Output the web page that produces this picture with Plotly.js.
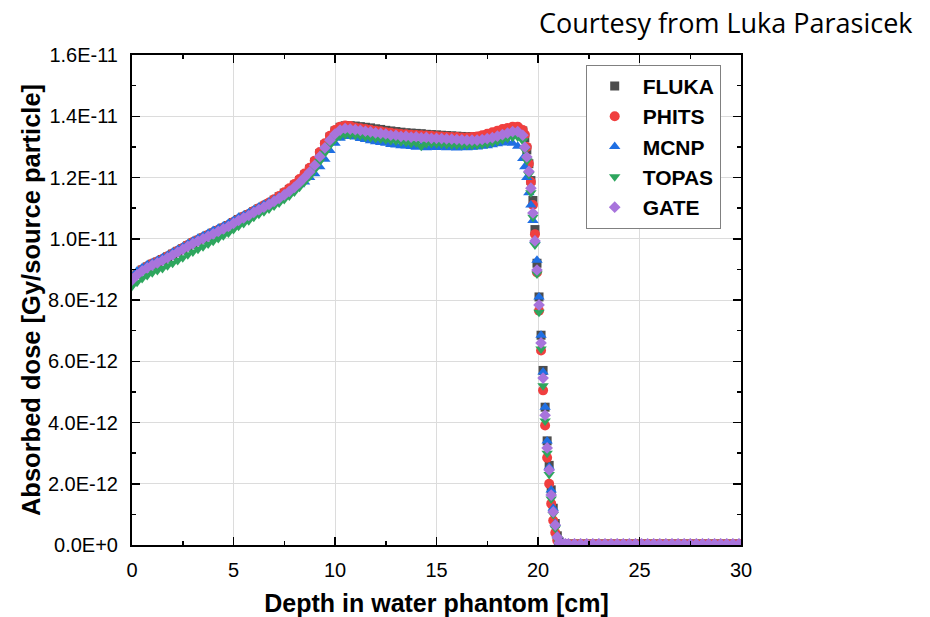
<!DOCTYPE html>
<html>
<head>
<meta charset="utf-8">
<script src="https://cdn.plot.ly/plotly-3.0.1.min.js"></script>
<style>html,body{margin:0;padding:0;background:#fff;}#chart{width:930px;height:617px;}</style>
</head>
<body>
<div id="chart"></div>
<script>
// Depth in water phantom [cm]
var depth = [
  0, 0.25, 0.5, 0.75, 1, 1.25, 1.5, 1.75, 2, 2.25,
  2.5, 2.75, 3, 3.25, 3.5, 3.75, 4, 4.25, 4.5, 4.75,
  5, 5.25, 5.5, 5.75, 6, 6.25, 6.5, 6.75, 7, 7.25,
  7.5, 7.75, 8, 8.25, 8.5, 8.75, 9, 9.25, 9.5, 9.75,
  10, 10.25, 10.5, 10.75, 11, 11.25, 11.5, 11.75, 12, 12.25,
  12.5, 12.75, 13, 13.25, 13.5, 13.75, 14, 14.25, 14.5, 14.75,
  15, 15.25, 15.5, 15.75, 16, 16.25, 16.5, 16.75, 17, 17.25,
  17.5, 17.75, 18, 18.25, 18.5, 18.75, 19, 19.25,
  19.35, 19.45, 19.55, 19.65, 19.75, 19.85, 19.95, 20.05, 20.15, 20.25,
  20.35, 20.45, 20.55, 20.65, 20.75, 20.85, 20.95, 21.05, 21.15, 21.25, 21.35,
  21.5, 21.8, 22.1, 22.4, 22.7, 23, 23.3, 23.6, 23.9, 24.2,
  24.5, 24.8, 25.1, 25.4, 25.7, 26, 26.3, 26.6, 26.9, 27.2,
  27.5, 27.8, 28.1, 28.4, 28.7, 29, 29.3, 29.6, 29.9
];

// Absorbed dose, in units of 1E-12 Gy/source particle
var fluka = [
  8.68, 8.85, 8.98, 9.08, 9.17, 9.24, 9.32, 9.41, 9.50, 9.59,
  9.68, 9.78, 9.87, 9.95, 10.03, 10.11, 10.19, 10.27, 10.35, 10.43,
  10.53, 10.63, 10.71, 10.79, 10.89, 10.98, 11.06, 11.15, 11.26, 11.37,
  11.49, 11.61, 11.75, 11.90, 12.08, 12.27, 12.50, 12.78, 13.07, 13.32,
  13.52, 13.64, 13.69, 13.69, 13.68, 13.66, 13.64, 13.62, 13.59, 13.57,
  13.54, 13.52, 13.50, 13.48, 13.46, 13.45, 13.44, 13.43, 13.41, 13.40,
  13.39, 13.38, 13.37, 13.36, 13.35, 13.34, 13.33, 13.33, 13.33, 13.35,
  13.38, 13.42, 13.46, 13.51, 13.55, 13.59, 13.60, 13.52,
  13.30, 12.90, 12.45, 11.90, 11.25, 10.30, 9.20, 8.10, 6.85, 5.70,
  4.50, 3.40, 2.60, 1.80, 1.20, 0.70, 0.30, 0.10, 0.04, 0.03, 0.03,
  0.03, 0.03, 0.03, 0.03, 0.03, 0.03, 0.03, 0.03, 0.03, 0.03,
  0.03, 0.03, 0.03, 0.03, 0.03, 0.03, 0.03, 0.03, 0.03, 0.03,
  0.03, 0.03, 0.03, 0.03, 0.03, 0.03, 0.03, 0.03, 0.03
];
var phits = [
  8.70, 8.86, 9.00, 9.10, 9.19, 9.26, 9.34, 9.43, 9.52, 9.61,
  9.70, 9.80, 9.89, 9.97, 10.05, 10.13, 10.21, 10.29, 10.37, 10.45,
  10.55, 10.64, 10.73, 10.81, 10.91, 11.00, 11.09, 11.18, 11.29, 11.40,
  11.52, 11.65, 11.79, 11.95, 12.13, 12.32, 12.55, 12.83, 13.12, 13.36,
  13.55, 13.66, 13.70, 13.68, 13.63, 13.61, 13.58, 13.56, 13.53, 13.51,
  13.48, 13.46, 13.44, 13.42, 13.41, 13.40, 13.39, 13.38, 13.37, 13.36,
  13.35, 13.34, 13.33, 13.32, 13.32, 13.31, 13.31, 13.32, 13.34, 13.38,
  13.43, 13.48, 13.53, 13.58, 13.62, 13.66, 13.66, 13.55,
  13.40, 13.00, 12.45, 11.85, 11.10, 10.15, 8.90, 7.65, 6.35, 5.05,
  3.90, 2.85, 2.00, 1.35, 0.80, 0.40, 0.15, 0.05, 0.03, 0.03, 0.03,
  0.03, 0.03, 0.03, 0.03, 0.03, 0.03, 0.03, 0.03, 0.03, 0.03,
  0.03, 0.03, 0.03, 0.03, 0.03, 0.03, 0.03, 0.03, 0.03, 0.03,
  0.03, 0.03, 0.03, 0.03, 0.03, 0.03, 0.03, 0.03, 0.03
];
var mcnp = [
  8.60, 8.95, 9.05, 9.15, 9.22, 9.30, 9.38, 9.46, 9.56, 9.65,
  9.74, 9.84, 9.93, 10.02, 10.10, 10.18, 10.27, 10.34, 10.42, 10.51,
  10.60, 10.70, 10.77, 10.85, 10.95, 11.04, 11.12, 11.20, 11.28, 11.37,
  11.46, 11.56, 11.65, 11.76, 11.85, 12.00, 12.12, 12.35, 12.60, 12.88,
  13.12, 13.28, 13.34, 13.36, 13.32, 13.27, 13.24, 13.20, 13.17, 13.14,
  13.12, 13.08, 13.06, 13.04, 13.03, 13.01, 12.99, 13.02, 12.97, 13.00,
  12.98, 13.01, 12.97, 12.99, 12.96, 12.99, 12.97, 12.99, 13.00, 13.02,
  13.04, 13.07, 13.10, 13.13, 13.15, 13.12, 13.02, 12.62,
  12.35, 12.00, 11.50, 11.10, 10.60, 9.95, 9.30, 8.10, 6.85, 5.65,
  4.50, 3.40, 2.55, 1.80, 1.20, 0.70, 0.30, 0.10, 0.05, 0.05, 0.05,
  0.05, 0.05, 0.05, 0.05, 0.05, 0.05, 0.05, 0.05, 0.05, 0.05,
  0.05, 0.05, 0.05, 0.05, 0.05, 0.05, 0.05, 0.05, 0.05, 0.05,
  0.05, 0.05, 0.05, 0.05, 0.05, 0.05, 0.05, 0.05, 0.05
];
var topas = [
  8.45, 8.58, 8.70, 8.80, 8.89, 8.96, 9.03, 9.12, 9.20, 9.29,
  9.38, 9.48, 9.57, 9.66, 9.74, 9.83, 9.92, 10.01, 10.10, 10.19,
  10.30, 10.41, 10.50, 10.59, 10.70, 10.80, 10.88, 10.97, 11.07, 11.17,
  11.28, 11.40, 11.53, 11.68, 11.85, 12.03, 12.25, 12.52, 12.80, 13.05,
  13.25, 13.36, 13.40, 13.40, 13.38, 13.36, 13.32, 13.30, 13.28, 13.26,
  13.23, 13.21, 13.19, 13.17, 13.15, 13.12, 13.13, 13.02, 13.10, 13.11,
  13.10, 13.09, 13.08, 13.07, 13.06, 13.05, 13.05, 13.05, 13.06, 13.08,
  13.10, 13.14, 13.18, 13.23, 13.28, 13.32, 13.32, 13.20,
  12.90, 12.55, 12.10, 11.50, 10.70, 9.80, 8.85, 7.60, 6.40, 5.20,
  4.05, 3.00, 2.30, 1.50, 1.00, 0.55, 0.20, 0.06, 0.03, 0.03, 0.03,
  0.03, 0.03, 0.03, 0.03, 0.03, 0.03, 0.03, 0.03, 0.03, 0.03,
  0.03, 0.03, 0.03, 0.03, 0.03, 0.03, 0.03, 0.03, 0.03, 0.03,
  0.03, 0.03, 0.03, 0.03, 0.03, 0.03, 0.03, 0.03, 0.03
];
var gate = [
  8.65, 8.82, 8.95, 9.05, 9.14, 9.21, 9.29, 9.38, 9.47, 9.56,
  9.65, 9.75, 9.84, 9.92, 10.00, 10.08, 10.16, 10.24, 10.32, 10.40,
  10.50, 10.60, 10.68, 10.76, 10.86, 10.95, 11.03, 11.12, 11.22, 11.32,
  11.43, 11.55, 11.68, 11.83, 12.00, 12.18, 12.40, 12.68, 12.97, 13.22,
  13.42, 13.55, 13.60, 13.58, 13.56, 13.54, 13.51, 13.49, 13.46, 13.44,
  13.42, 13.38, 13.38, 13.34, 13.35, 13.32, 13.33, 13.30, 13.31, 13.28,
  13.28, 13.27, 13.26, 13.25, 13.24, 13.23, 13.22, 13.22, 13.22, 13.24,
  13.27, 13.30, 13.35, 13.40, 13.45, 13.50, 13.50, 13.38,
  12.99, 12.67, 12.20, 11.65, 10.84, 9.93, 8.98, 7.84, 6.60, 5.45,
  4.24, 3.17, 2.45, 1.63, 1.08, 0.65, 0.26, 0.07, 0.04, 0.04, 0.04,
  0.04, 0.04, 0.04, 0.04, 0.04, 0.04, 0.04, 0.04, 0.04, 0.04,
  0.04, 0.04, 0.04, 0.04, 0.04, 0.04, 0.04, 0.04, 0.04, 0.04,
  0.04, 0.04, 0.04, 0.04, 0.04, 0.04, 0.04, 0.04, 0.04
];

var seriesNames = ["FLUKA", "PHITS", "MCNP", "TOPAS", "GATE"];
var seriesValues = [fluka, phits, mcnp, topas, gate];
var seriesColors = ["#4d4d4d", "#f03f3f", "#1f6fe3", "#2ea65e", "#a874dc"];
var seriesSymbols = ["square", "circle", "triangle-up", "triangle-down", "diamond"];
var seriesSizes = [9, 10, 10, 10, 9];

var yTickVals = [0, 2, 4, 6, 8, 10, 12, 14, 16];
var yTickText = ["0.0E+0", "2.0E-12", "4.0E-12", "6.0E-12", "8.0E-12", "1.0E-11", "1.2E-11", "1.4E-11", "1.6E-11"];

var traces = seriesNames.map(function (name, i) {
  return {
    type: "scatter",
    mode: "markers",
    name: name,
    x: depth,
    y: seriesValues[i],
    marker: { symbol: seriesSymbols[i], color: seriesColors[i], size: seriesSizes[i], line: { width: 0 } }
  };
});

var fontMain = "Liberation Sans, Arial, sans-serif";

var layout = {
  width: 930,
  height: 617,
  margin: { l: 132, r: 189, t: 55, b: 72 },
  paper_bgcolor: "#ffffff",
  plot_bgcolor: "#ffffff",
  showlegend: true,
  font: { family: fontMain, color: "#000000" },
  xaxis: {
    range: [0, 30],
    tickmode: "linear", tick0: 0, dtick: 5,
    ticks: "inside", ticklen: 8, tickwidth: 1.5, tickcolor: "#000",
    minor: { tickmode: "linear", tick0: 0, dtick: 2.5, ticks: "inside", ticklen: 4, tickwidth: 1.5, tickcolor: "#000", showgrid: false },
    showline: true, linecolor: "#000", linewidth: 2, mirror: "allticks",
    showgrid: true, gridcolor: "#dcdcdc", gridwidth: 1,
    zeroline: false,
    tickfont: { family: fontMain, size: 20, color: "#000" },
    ticklabelstandoff: 6,
    title: { text: "Depth in water phantom [cm]", font: { family: fontMain, size: 25, weight: "bold", color: "#000" }, standoff: 14 }
  },
  yaxis: {
    range: [0, 16],
    tickmode: "array", tickvals: yTickVals, ticktext: yTickText,
    ticks: "inside", ticklen: 8, tickwidth: 1.5, tickcolor: "#000",
    minor: { tickmode: "linear", tick0: 0, dtick: 1, ticks: "inside", ticklen: 4, tickwidth: 1.5, tickcolor: "#000", showgrid: false },
    showline: true, linecolor: "#000", linewidth: 2, mirror: "allticks",
    showgrid: true, gridcolor: "#dcdcdc", gridwidth: 1,
    zeroline: false,
    tickfont: { family: fontMain, size: 20, color: "#000" },
    ticklabelstandoff: 8,
    title: { text: "Absorbed dose [Gy/source particle]", font: { family: fontMain, size: 25.5, weight: "bold", color: "#000" }, standoff: 0 }
  },
  legend: {
    x: 0.745, y: 0.98, xanchor: "left", yanchor: "top",
    bgcolor: "#ffffff", bordercolor: "#808080", borderwidth: 1,
    font: { family: fontMain, size: 21, weight: "bold", color: "#000" },
    itemwidth: 46
  },
  annotations: [{
    xref: "paper", yref: "paper", x: 1.286, y: 1.067,
    xanchor: "right", yanchor: "middle", showarrow: false,
    text: "Courtesy from Luka Parasicek",
    font: { family: "Open Sans, Noto Sans, sans-serif", size: 27, color: "#000" }
  }]
};

Plotly.newPlot("chart", traces, layout, { displayModeBar: false, staticPlot: true });
</script>
</body>
</html>
